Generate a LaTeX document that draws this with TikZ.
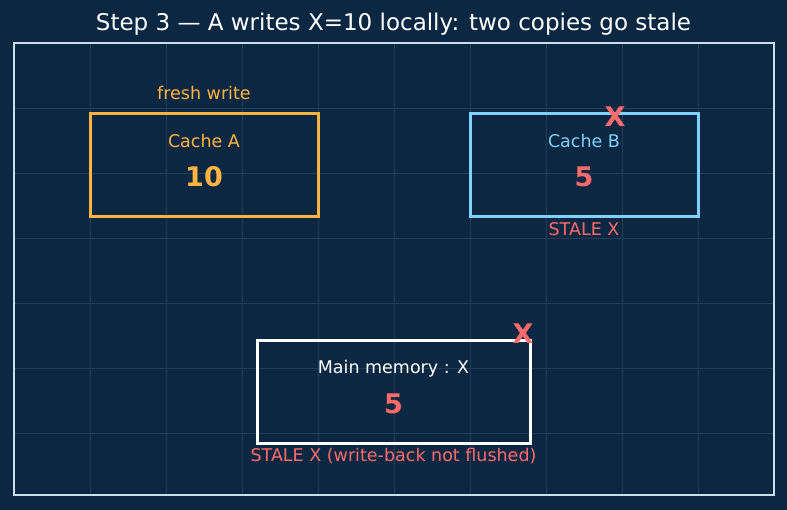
\documentclass[tikz,border=0pt]{standalone}
\usepackage{fontspec}
\setmainfont{DejaVu Sans}
\usetikzlibrary{positioning}
\definecolor{bgnavy}{RGB}{11,39,65}
\definecolor{gridcol}{RGB}{33,61,87}
\definecolor{framecol}{RGB}{200,222,236}
\definecolor{fresh}{RGB}{255,179,64}
\definecolor{peer}{RGB}{128,208,250}
\definecolor{stale}{RGB}{255,107,107}

\begin{document}
\begin{tikzpicture}[x=1pt, y=-1pt,
    cachebox/.style={draw, line width=3pt, minimum width=228pt, minimum height=103pt, inner sep=0pt},
    lbl/.style={font=\fontsize{17.5}{20}\selectfont, text height=13pt, text depth=4pt},
    val/.style={font=\fontsize{27}{30}\selectfont\bfseries},
    gridln/.style={draw=gridcol, line width=0.8pt}]
                    \path[fill=bgnavy, use as bounding box] (0,0) rectangle (787,510);
                    \foreach \gx in {90,166,...,698} \draw[gridln] (\gx,43) -- (\gx,495);
                    \foreach \gy in {108,173,...,433} \draw[gridln] (14,\gy) -- (774,\gy);
                    \draw[framecol, line width=1.5pt] (14,43) rectangle (774,495);
                    \node[text=white, font=\fontsize{23}{26}\selectfont] (title) at (393.5,24) {Step 3 — A writes X=10 locally: two copies go stale};
                    % the two caches
                    \node[cachebox, draw=fresh] (ca) at (204,165.5) {};
                    \node[cachebox, draw=peer] (cb) at (584,165.5) {};
                    \node[lbl, text=fresh, above=5.5pt of ca] (fw) {fresh write};
                    \node[lbl, text=fresh] (caname) at ([yshift=22.5pt]ca.center) {Cache A};
                    \node[val, text=fresh] (caval) at ([yshift=-11.5pt]ca.center) {10};
                    \node[lbl, text=peer] (cbname) at ([yshift=22.5pt]cb.center) {Cache B};
                    \node[val, text=stale] (cbval) at ([yshift=-11.5pt]cb.center) {5};
                    \node[val, text=stale] (cbx) at (615,117) {X};
                    \node[lbl, text=stale, below=0pt of cb] (cbstale) {STALE X};
                    % main memory
                    \node[cachebox, draw=white, minimum width=273pt, minimum height=102pt] (mem) at (393.5,392) {};
                    \node[lbl, text=white] (memname) at ([yshift=23pt]mem.center) {Main memory : X};
                    \node[val, text=stale] (memval) at ([yshift=-12pt]mem.center) {5};
                    \node[val, text=stale] (memx) at (523,334) {X};
                    \node[lbl, text=stale, below=0pt of mem] (memstale) {STALE X (write-back not flushed)};
                \end{tikzpicture}
\end{document}
